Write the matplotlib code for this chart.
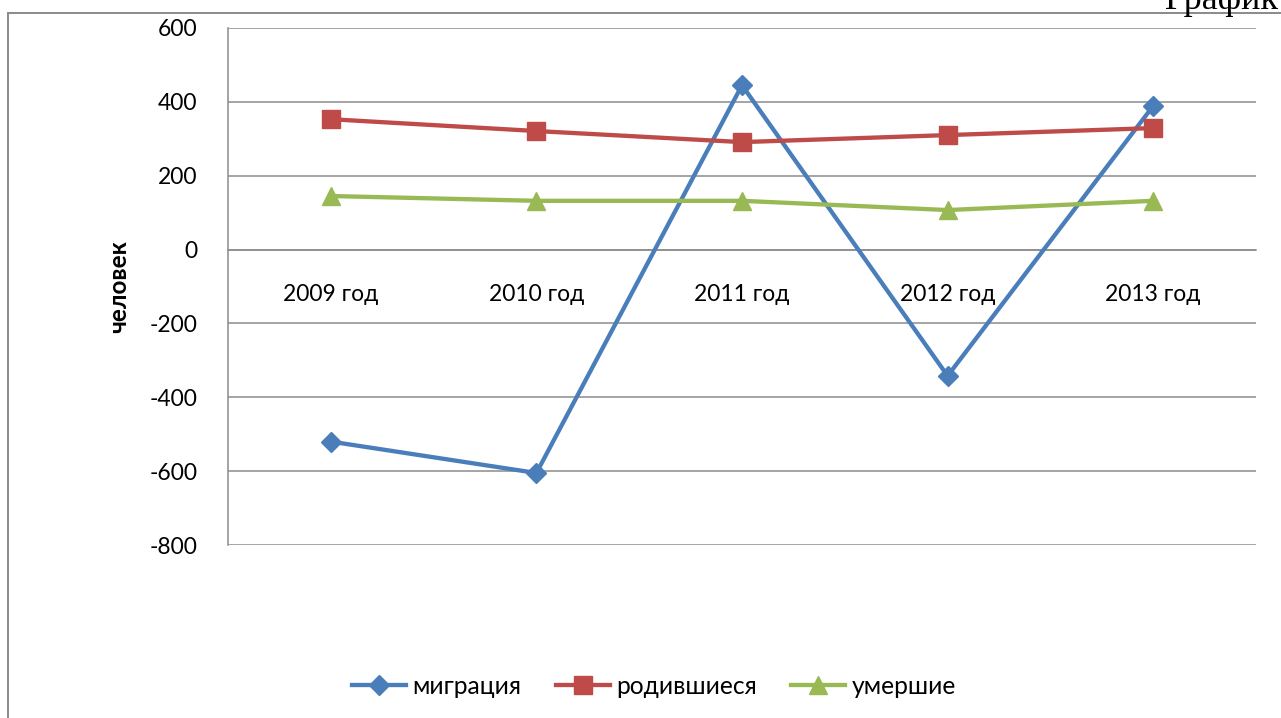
import matplotlib
matplotlib.use("Agg")
import matplotlib.pyplot as plt
from matplotlib.patches import Rectangle

# Data
years = ["2009 год", "2010 год", "2011 год", "2012 год", "2013 год"]
migration = [-520, -605, 445, -342, 389]
births = [353, 321, 291, 310, 329]
deaths = [145, 132, 132, 107, 132]
y_ticks = [600, 400, 200, 0, -200, -400, -600, -800]

plt.rcParams['font.family'] = ['Lato', 'DejaVu Sans']

W, H = 1281, 718
fig = plt.figure(figsize=(W / 100, H / 100), dpi=100)

# chart border (extends beyond the visible area)
border = Rectangle((8 / W, -0.5), 2.0, 1 - 12.7 / H + 0.5, transform=fig.transFigure,
                   fill=False, edgecolor="#8a8a8a", linewidth=1.4, clip_on=False)
fig.patches.append(border)

# page text cut off at top right
fig.text(1165 / W, 1 - 9 / H, "График 1", family="Liberation Serif", fontsize=26,
         ha="left", va="baseline", color="black")

ax = fig.add_axes([228 / W, 1 - 545 / H, (1256 - 228) / W, (545 - 28) / H])
x = list(range(len(years)))

blue, red, green = "#4A7EBB", "#BE4B48", "#98B954"
ax.plot(x, migration, color=blue, lw=3.1, marker="D", ms=10, label="миграция", zorder=3)
ax.plot(x, births, color=red, lw=3.1, marker="s", ms=13, label="родившиеся", zorder=3)
ax.plot(x, deaths, color=green, lw=3.1, marker="^", ms=13, label="умершие", zorder=3)

ax.set_xlim(-0.5, len(years) - 0.5)
ax.set_ylim(-800, 600)
ax.set_yticks(y_ticks)
ax.set_yticklabels([str(v) for v in y_ticks])
ax.grid(axis="y", color="#8c8c8c", lw=1.1)
ax.set_axisbelow(True)

for s in ["top", "right"]:
    ax.spines[s].set_visible(False)
ax.spines["left"].set_color("#8c8c8c")
ax.spines["left"].set_linewidth(1.1)
ax.spines["bottom"].set_position(("data", 0))
ax.spines["bottom"].set_color("#8c8c8c")
ax.spines["bottom"].set_linewidth(1.1)

ax.set_xticks(x)
ax.set_xticklabels(years)
ax.tick_params(axis="x", length=0, pad=25, labelsize=16.5)
ax.tick_params(axis="y", length=0, pad=22, labelsize=16.5)

ax.set_ylabel("человек", fontsize=17.5, fontweight="bold", labelpad=14)

fig.legend(loc="center", bbox_to_anchor=(654 / W, 1 - 686 / H), ncol=3, frameon=False,
           fontsize=17.7, handlelength=2.2, columnspacing=1.4, handletextpad=0.25,
           borderaxespad=0)

fig.savefig("out.png", dpi=100)
